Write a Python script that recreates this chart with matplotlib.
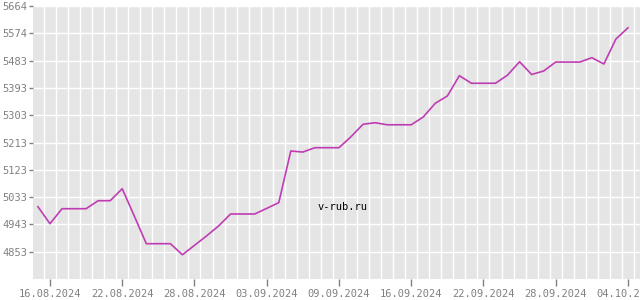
import numpy as np
import matplotlib.pyplot as plt

# rate values, one per day, starting the day before the first label
rate = [5001.6, 4945.5, 4995, 4995, 4995, 5021.4, 5021.4, 5061, 4971, 4879.5,
        4879.5, 4879.5, 4843, 4874, 4905, 4938, 4977.5, 4977.5, 4977.5, 4996,
        5015, 5185.4, 5182, 5196.3, 5196.3, 5196.3, 5232.6, 5273.6, 5278.8, 5272,
        5272, 5272, 5297.7, 5343, 5367, 5434, 5409, 5409, 5409, 5436,
        5480, 5438, 5449.5, 5479, 5479, 5479, 5493.4, 5472.6, 5555, 5592]
date_labels = ["16.08.2024", "22.08.2024", "28.08.2024", "03.09.2024", "09.09.2024",
               "16.09.2024", "22.09.2024", "28.09.2024", "04.10.2024"]
y_ticks = [4853, 4943, 5033, 5123, 5213, 5303, 5393, 5483, 5574, 5664]

x = np.arange(len(rate)) - 1

fig = plt.figure(figsize=(6.4, 3.0), dpi=100)
ax = fig.add_axes([33/640, 21/300, 1 - 33/640, 273/300])
ax.set_facecolor('#e5e5e5')
for s in ax.spines.values():
    s.set_visible(False)

ax.plot(x, rate, color='#c03cb4', lw=1.2, zorder=3)

ax.set_xlim(-1.41, 49.0)
ax.set_ylim(4763, 5664)

ax.set_xticks(np.arange(0, 49, 6))
ax.set_xticklabels(date_labels)
ax.set_xticks(np.arange(-0.5, 49, 1), minor=True)
ax.set_yticks(y_ticks)
ax.set_yticklabels([str(v) for v in y_ticks])

ax.grid(True, which='minor', axis='x', color='white', lw=1.0)
ax.grid(True, which='major', axis='y', color='white', lw=1.0)
ax.set_axisbelow(True)

ax.tick_params(axis='x', which='minor', length=0)
ax.tick_params(axis='x', which='major', length=5, width=1, color='#808080',
               labelsize=7.5, labelcolor='#808080', pad=2)
ax.tick_params(axis='y', length=3, width=1, color='#808080',
               labelsize=7.5, labelcolor='#808080', pad=1)
for lab in ax.get_xticklabels() + ax.get_yticklabels():
    lab.set_family('DejaVu Sans Mono')

ax.text(343, 207, 'v-rub.ru', transform=None, fontsize=7.5,
        family='DejaVu Sans Mono', color='black', ha='center', va='center')
# transform=None -> display coords from bottom, fix y
ax.texts[-1].set_position((343, 300 - 207))

fig.savefig('out.png', dpi=100)
